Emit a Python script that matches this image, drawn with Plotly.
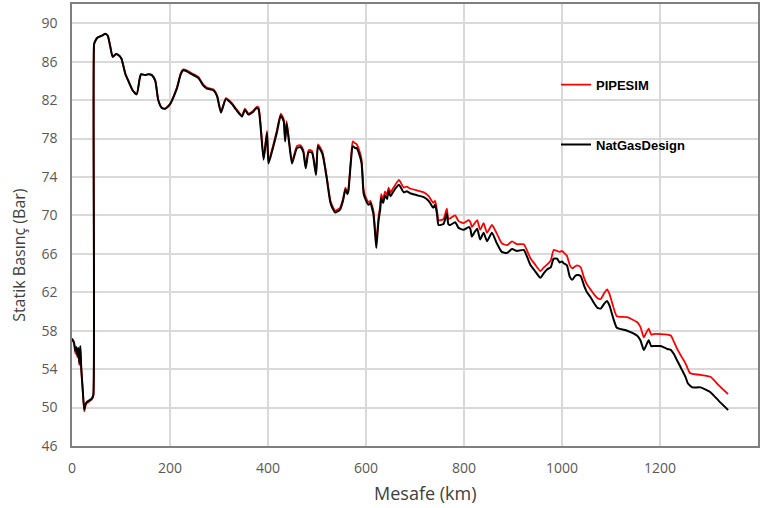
import plotly.graph_objects as go

# Distance along the pipeline (km)
distance_km = [
    0, 4, 7, 9, 11, 13, 15, 17, 19, 22, 25, 28, 31, 37, 41, 43.5, 45, 47, 52, 61,
    68, 73, 78, 83, 90, 97, 101, 109, 115, 124, 132, 138, 141, 149, 156, 163, 170, 176, 183, 190,
    200, 214, 222, 227, 234, 244, 258, 268, 275, 289, 296, 304, 314, 326, 335, 347, 353, 360, 370, 377,
    381, 391, 398, 401, 410, 418, 426, 432, 435, 438, 443, 449, 459, 466, 472, 477, 483, 490, 498, 502,
    511, 520, 527, 532, 537, 547, 553, 558, 562, 564, 569, 573, 578, 581, 586, 591, 595, 598, 605, 609,
    613, 615, 618, 621, 624, 626, 629, 631, 635, 639, 643, 646, 650, 655, 660, 667, 670, 677, 683, 690,
    704, 718, 728, 733, 737, 741, 745, 748, 758, 765, 768, 772, 782, 789, 799, 810, 813, 816, 822, 827,
    833, 840, 847, 857, 867, 877, 888, 898, 908, 922, 935, 945, 956, 963, 970, 977, 983, 990, 995, 1000,
    1004, 1010, 1016, 1021, 1027, 1031, 1038, 1045, 1051, 1058, 1065, 1072, 1079, 1086, 1092, 1097, 1104, 1112, 1133, 1153,
    1160, 1167, 1172, 1177, 1182, 1187, 1201, 1215, 1222, 1228, 1235, 1245, 1252, 1257, 1261, 1266, 1283, 1303, 1320, 1339,
]

# Static pressure from NatGasDesign (bar)
natgasdesign_bar = [
    57.2, 56.8, 55.9, 56.3, 55.4, 56.2, 54.6, 56.4, 54.0, 51.8, 49.8, 50.4, 50.6, 50.8, 51.0, 51.3, 87.8, 88.1, 88.5, 88.7,
    88.9, 88.7, 87.6, 86.5, 86.8, 86.6, 86.3, 84.7, 84.0, 83.0, 82.6, 84.2, 84.7, 84.6, 84.7, 84.6, 84.0, 82.0, 81.2, 81.1,
    81.55, 83.2, 84.7, 85.1, 85.0, 84.7, 84.3, 83.5, 83.2, 83.0, 82.4, 80.7, 82.1, 81.6, 81.0, 80.3, 81.0, 80.5, 80.8, 81.2,
    81.0, 75.8, 78.6, 75.4, 77.0, 78.6, 80.4, 79.8, 77.7, 79.6, 77.6, 75.4, 77.0, 77.1, 76.6, 74.9, 76.6, 76.5, 74.2, 77.2,
    76.4, 73.8, 71.4, 70.7, 70.3, 70.6, 71.5, 72.7, 72.2, 72.5, 75.5, 77.2, 77.0, 77.0, 76.4, 75.4, 72.3, 71.8, 71.1, 71.3,
    70.6, 70.2, 68.5, 66.6, 68.5, 69.6, 70.6, 71.8, 71.3, 72.1, 71.7, 72.5, 72.0, 72.4, 72.8, 73.2, 73.0, 72.4, 72.5, 72.3,
    72.1, 71.9, 71.5, 71.1, 70.8, 71.1, 70.1, 69.0, 69.1, 70.2, 69.1, 69.0, 69.3, 68.7, 68.5, 68.8, 68.6, 67.8, 68.3, 68.6,
    67.5, 68.2, 67.3, 68.2, 67.1, 66.2, 66.1, 66.5, 66.3, 66.4, 64.9, 64.2, 63.5, 64.0, 64.4, 64.6, 65.5, 65.5, 65.1, 65.2,
    65.0, 64.8, 63.6, 63.3, 63.7, 63.8, 63.7, 62.7, 62.0, 61.5, 60.9, 60.4, 60.3, 60.8, 61.1, 60.6, 59.4, 58.3, 58.0, 57.5,
    57.0, 56.0, 56.5, 57.0, 56.4, 56.4, 56.4, 56.1, 56.0, 55.6, 54.9, 53.9, 53.2, 52.5, 52.3, 52.1, 52.1, 51.6, 50.7, 49.75,
]

# Static pressure from PIPESIM (bar)
pipesim_bar = [
    57.1, 56.7, 55.6, 56.2, 55.2, 56.1, 54.4, 56.3, 53.9, 51.7, 49.6, 50.3, 50.5, 50.7, 50.9, 51.2, 87.8, 88.1, 88.5, 88.7,
    88.9, 88.7, 87.6, 86.5, 86.8, 86.6, 86.3, 84.7, 84.0, 83.0, 82.6, 84.2, 84.7, 84.6, 84.7, 84.6, 84.0, 82.0, 81.2, 81.1,
    81.6, 83.3, 84.8, 85.2, 85.1, 84.8, 84.4, 83.6, 83.3, 83.1, 82.5, 80.8, 82.2, 81.7, 81.1, 80.4, 81.1, 80.6, 80.9, 81.3,
    81.2, 76.0, 78.8, 75.6, 77.2, 78.8, 80.6, 80.0, 77.9, 79.8, 77.8, 75.6, 77.2, 77.3, 76.8, 75.1, 76.8, 76.7, 74.4, 77.4,
    76.6, 74.0, 71.6, 70.9, 70.5, 70.8, 71.7, 72.9, 72.4, 72.7, 75.7, 77.7, 77.5, 77.4, 76.8, 75.8, 72.7, 72.1, 71.4, 71.5,
    70.9, 70.5, 68.9, 67.1, 68.9, 70.0, 71.0, 72.2, 71.7, 72.5, 72.1, 72.9, 72.4, 72.8, 73.2, 73.7, 73.5, 72.9, 73.0, 72.8,
    72.6, 72.4, 72.0, 71.6, 71.3, 71.5, 70.5, 69.5, 69.6, 70.7, 69.6, 69.7, 70.0, 69.4, 69.2, 69.5, 69.3, 68.8, 69.2, 69.5,
    68.5, 69.2, 68.2, 69.0, 68.1, 67.1, 66.9, 67.3, 67.0, 67.0, 65.6, 64.9, 64.2, 64.6, 64.9, 65.3, 66.4, 66.3, 66.2, 66.3,
    66.1, 65.8, 64.8, 64.5, 64.7, 64.8, 64.6, 63.5, 62.8, 62.3, 61.8, 61.4, 61.3, 61.9, 62.3, 61.8, 60.6, 59.5, 59.4, 58.9,
    58.4, 57.3, 57.8, 58.2, 57.6, 57.65, 57.65, 57.6, 57.5, 56.9, 56.1, 55.2, 54.6, 54.0, 53.6, 53.5, 53.4, 53.2, 52.3, 51.4,
]

x_ticks = [0, 200, 400, 600, 800, 1000, 1200, 1400]
y_ticks = [46, 50, 54, 58, 62, 66, 70, 74, 78, 82, 86, 90]

fig = go.Figure()
fig.add_trace(go.Scatter(
    x=distance_km, y=pipesim_bar, mode="lines", name="PIPESIM",
    line=dict(color="#ff0000", width=1.8, shape="spline", smoothing=0.5), legendgroup="a",
))
fig.add_trace(go.Scatter(
    x=distance_km, y=natgasdesign_bar, mode="lines", name="NatGasDesign",
    line=dict(color="#000000", width=2, shape="spline", smoothing=0.5), legendgroup="b",
))

axis_font = dict(family="Open Sans", size=14, color="#595959")

fig.update_xaxes(
    range=[0, 1400], tickmode="array", tickvals=x_ticks,
    showgrid=True, gridcolor="#d9d9d9", gridwidth=1.5,
    showline=True, linecolor="#7f7f7f", linewidth=1.5, mirror=True,
    zeroline=False, ticks="", tickfont=axis_font, ticklabelstandoff=8,
)
fig.update_yaxes(
    range=[46, 92], tickmode="array", tickvals=y_ticks,
    showgrid=True, gridcolor="#d9d9d9", gridwidth=1.5,
    showline=True, linecolor="#7f7f7f", linewidth=1.5, mirror=True,
    zeroline=False, ticks="", tickfont=axis_font, ticklabelstandoff=10,
)

# Axis titles
fig.add_annotation(
    text="Mesafe (km)", xref="paper", yref="paper",
    x=(425 - 72) / 686, y=1 - (493 - 2) / 444, xanchor="center", yanchor="middle",
    showarrow=False, font=dict(family="Open Sans", size=18, color="#404040"),
)
fig.add_annotation(
    text="Statik Basınç (Bar)", xref="paper", yref="paper",
    x=(19 - 72) / 686, y=1 - (254 - 2) / 444, xanchor="center", yanchor="middle",
    textangle=-90, showarrow=False,
    font=dict(family="Open Sans", size=16, color="#404040"),
)

# White panel behind the legend, covering the grid
fig.add_shape(
    type="rect", xref="paper", yref="paper",
    x0=(538 - 72) / 686, x1=(716 - 72) / 686,
    y0=1 - (175 - 2) / 444, y1=1 - (55 - 2) / 444,
    fillcolor="white", line=dict(width=0), layer="between",
)

fig.update_layout(
    width=772, height=508,
    margin=dict(l=72, r=14, t=2, b=62),
    plot_bgcolor="white", paper_bgcolor="white",
    showlegend=True,
    legend=dict(
        x=(556 - 72) / 686, y=1 - (68 - 2) / 444, xanchor="left", yanchor="top",
        bgcolor="rgba(0,0,0,0)", borderwidth=0,
        font=dict(family="Liberation Sans", size=13, color="#000000", weight="bold"),
        traceorder="grouped", tracegroupgap=40, itemwidth=30,
    ),
)

fig.write_html("out.html")
